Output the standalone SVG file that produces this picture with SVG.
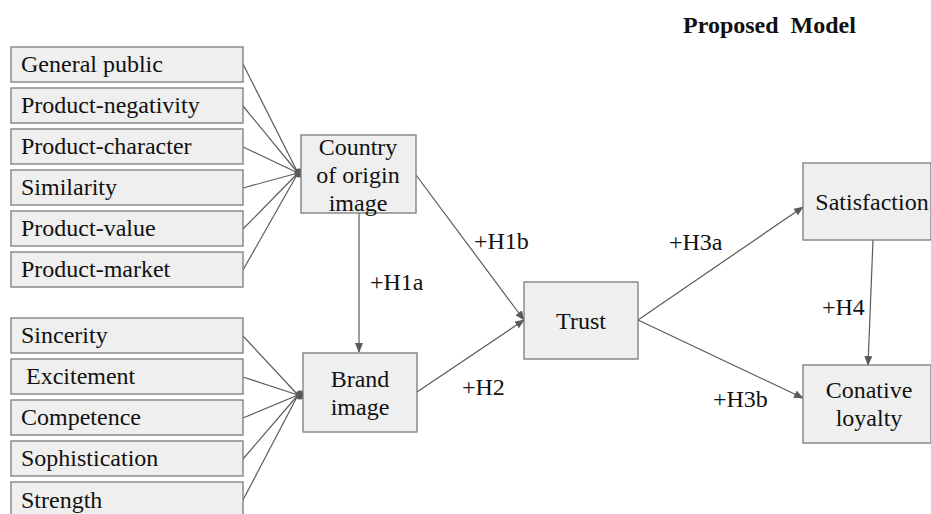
<svg xmlns="http://www.w3.org/2000/svg" width="931" height="514" viewBox="0 0 931 514" font-family="'Liberation Serif', 'DejaVu Serif', serif">
<style>
.box{fill:#efefef;stroke:#7a7a7a;stroke-width:1.3}
.t{font-family:'Liberation Serif','DejaVu Serif',serif;font-size:24px;fill:#111}
.c{text-anchor:middle}
.ln{stroke:#5a5a5a;stroke-width:1.2;fill:none}
.ar{marker-end:url(#ah)}
</style>
<defs>
<marker id="ah" markerWidth="10" markerHeight="8" refX="9" refY="4" orient="auto" markerUnits="userSpaceOnUse">
<path d="M0,0 L10,4 L0,8 z" fill="#5a5a5a"/>
</marker>
</defs>
<rect width="931" height="514" fill="#fff"/>
<text x="683" y="33" class="t" font-weight="bold" xml:space="preserve">Proposed  Model</text>

<g id="connectors">
<line class="ln" x1="243" y1="64" x2="298" y2="173"/>
<line class="ln" x1="243" y1="106" x2="298" y2="173"/>
<line class="ln" x1="243" y1="147" x2="298" y2="173"/>
<line class="ln" x1="243" y1="188" x2="298" y2="173"/>
<line class="ln" x1="243" y1="229" x2="298" y2="173"/>
<line class="ln" x1="243" y1="270" x2="298" y2="173"/>
<circle cx="299" cy="173" r="4.5" fill="#5a5a5a"/>
<line class="ln" x1="243" y1="336" x2="298" y2="395"/>
<line class="ln" x1="243" y1="377" x2="298" y2="395"/>
<line class="ln" x1="243" y1="418" x2="298" y2="395"/>
<line class="ln" x1="243" y1="459" x2="298" y2="395"/>
<line class="ln" x1="243" y1="500" x2="298" y2="395"/>
<circle cx="300" cy="395" r="4.5" fill="#5a5a5a"/>
<line class="ln ar" x1="359" y1="213" x2="359" y2="352"/>
<line class="ln ar" x1="416" y1="175" x2="524" y2="320"/>
<line class="ln ar" x1="417" y1="392" x2="524" y2="320"/>
<line class="ln ar" x1="638" y1="320" x2="803" y2="207"/>
<line class="ln ar" x1="638" y1="320" x2="803" y2="398"/>
<line class="ln ar" x1="873" y1="240" x2="868" y2="365"/>
<text x="370" y="290" class="t">+H1a</text>
<text x="474" y="249" class="t">+H1b</text>
<text x="462" y="395" class="t">+H2</text>
<text x="669" y="250" class="t">+H3a</text>
<text x="713" y="407" class="t">+H3b</text>
<text x="822" y="315" class="t">+H4</text>
</g>

<g id="general-public"><rect class="box" x="11" y="47" width="232" height="35"/><text x="21" y="72" class="t">General public</text></g>
<g id="product-negativity"><rect class="box" x="11" y="88" width="232" height="35"/><text x="21" y="113" class="t">Product-negativity</text></g>
<g id="product-character"><rect class="box" x="11" y="129" width="232" height="35"/><text x="21" y="154" class="t">Product-character</text></g>
<g id="similarity"><rect class="box" x="11" y="170" width="232" height="35"/><text x="21" y="195" class="t">Similarity</text></g>
<g id="product-value"><rect class="box" x="11" y="211" width="232" height="35"/><text x="21" y="236" class="t">Product-value</text></g>
<g id="product-market"><rect class="box" x="11" y="252" width="232" height="35"/><text x="21" y="277" class="t">Product-market</text></g>

<g id="sincerity"><rect class="box" x="11" y="318" width="232" height="35"/><text x="21" y="343" class="t">Sincerity</text></g>
<g id="excitement"><rect class="box" x="11" y="359" width="232" height="35"/><text x="26" y="384" class="t">Excitement</text></g>
<g id="competence"><rect class="box" x="11" y="400" width="232" height="35"/><text x="21" y="425" class="t">Competence</text></g>
<g id="sophistication"><rect class="box" x="11" y="441" width="232" height="35"/><text x="21" y="466" class="t">Sophistication</text></g>
<g id="strength"><rect class="box" x="11" y="482" width="232" height="40"/><text x="21" y="508" class="t">Strength</text></g>

<g id="country-of-origin-image"><rect class="box" x="301" y="135" width="115" height="78"/>
<text x="358" y="155" class="t c">Country</text><text x="358" y="183" class="t c">of origin</text><text x="358" y="211" class="t c">image</text></g>
<g id="brand-image"><rect class="box" x="303" y="353" width="114" height="79"/>
<text x="360" y="387" class="t c">Brand</text><text x="360" y="415" class="t c">image</text></g>
<g id="trust"><rect class="box" x="524" y="282" width="114" height="77"/><text x="581" y="329" class="t c">Trust</text></g>
<g id="satisfaction"><rect class="box" x="803" y="163" width="128" height="77"/><text x="872" y="210" class="t c">Satisfaction</text></g>
<g id="conative-loyalty"><rect class="box" x="803" y="365" width="128" height="78"/>
<text x="869" y="398" class="t c">Conative</text><text x="869" y="426" class="t c">loyalty</text></g>
</svg>
